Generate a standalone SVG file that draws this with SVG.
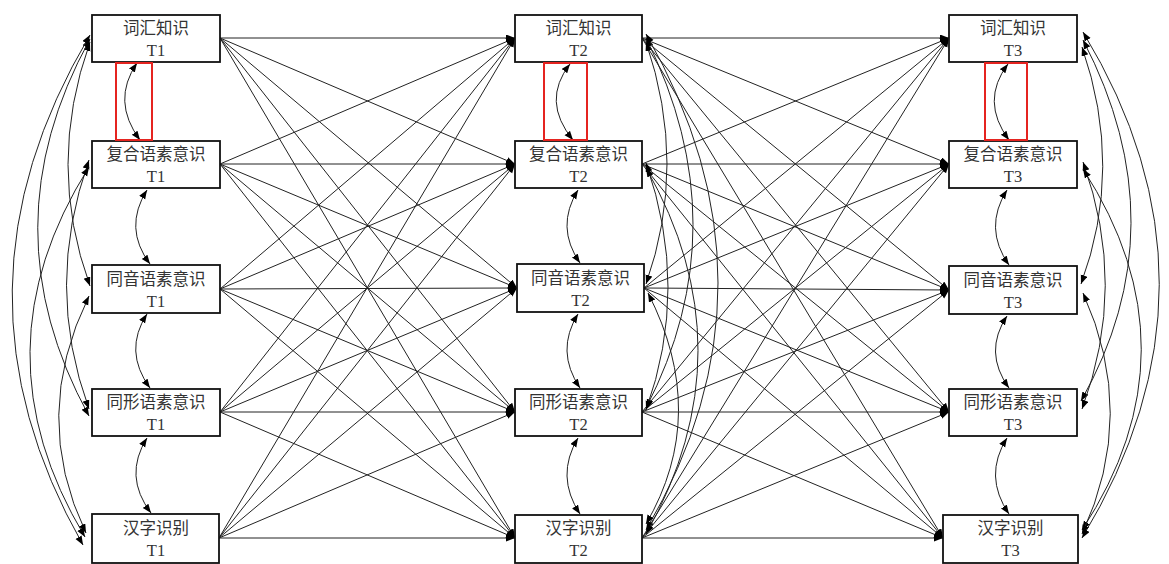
<svg xmlns="http://www.w3.org/2000/svg" width="1169" height="564" viewBox="0 0 1169 564">
<style>
.box{fill:#fff;stroke:#111;stroke-width:1.8}
.lbl{font-family:"Liberation Serif","Noto Sans CJK SC",serif;font-size:16.5px;fill:#333;text-anchor:middle}
.c{fill:none;stroke:#222;stroke-width:1}
.p{marker-end:url(#ah)}
.r{marker-start:url(#ah);marker-end:url(#ah)}
.red{fill:none;stroke:#e52420;stroke-width:2}
</style>
<defs>
<marker id="ah" markerUnits="userSpaceOnUse" markerWidth="10" markerHeight="8" refX="9" refY="3.5" orient="auto-start-reverse"><path d="M0,0 L9,3.5 L0,7 z" fill="#000"/></marker>
</defs>
<rect width="1169" height="564" fill="#fff"/>
<g id="connectors">
<path class="c p" d="M220,38 L515,38"/>
<path class="c p" d="M220,38 L515,164"/>
<path class="c p" d="M220,38 L517,288"/>
<path class="c p" d="M220,38 L515,412"/>
<path class="c p" d="M220,38 L515,538"/>
<path class="c p" d="M220,164 L515,38"/>
<path class="c p" d="M220,164 L515,164"/>
<path class="c p" d="M220,164 L517,288"/>
<path class="c p" d="M220,164 L515,412"/>
<path class="c p" d="M220,164 L515,538"/>
<path class="c p" d="M220,289 L515,38"/>
<path class="c p" d="M220,289 L515,164"/>
<path class="c p" d="M220,289 L517,288"/>
<path class="c p" d="M220,289 L515,412"/>
<path class="c p" d="M220,289 L515,538"/>
<path class="c p" d="M220,412 L515,38"/>
<path class="c p" d="M220,412 L515,164"/>
<path class="c p" d="M220,412 L517,288"/>
<path class="c p" d="M220,412 L515,412"/>
<path class="c p" d="M220,412 L515,538"/>
<path class="c p" d="M219,538 L515,38"/>
<path class="c p" d="M219,538 L515,164"/>
<path class="c p" d="M219,538 L517,288"/>
<path class="c p" d="M219,538 L515,412"/>
<path class="c p" d="M219,538 L515,538"/>
<path class="c p" d="M642,38 L949,38"/>
<path class="c p" d="M642,38 L949,164"/>
<path class="c p" d="M642,38 L949,290"/>
<path class="c p" d="M642,38 L949,412"/>
<path class="c p" d="M642,38 L943,538"/>
<path class="c p" d="M642,164 L949,38"/>
<path class="c p" d="M642,164 L949,164"/>
<path class="c p" d="M642,164 L949,290"/>
<path class="c p" d="M642,164 L949,412"/>
<path class="c p" d="M642,164 L943,538"/>
<path class="c p" d="M644,288 L949,38"/>
<path class="c p" d="M644,288 L949,164"/>
<path class="c p" d="M644,288 L949,290"/>
<path class="c p" d="M644,288 L949,412"/>
<path class="c p" d="M644,288 L943,538"/>
<path class="c p" d="M642,412 L949,38"/>
<path class="c p" d="M642,412 L949,164"/>
<path class="c p" d="M642,412 L949,290"/>
<path class="c p" d="M642,412 L949,412"/>
<path class="c p" d="M642,412 L943,538"/>
<path class="c p" d="M642,538 L949,38"/>
<path class="c p" d="M642,538 L949,164"/>
<path class="c p" d="M642,538 L949,290"/>
<path class="c p" d="M642,538 L949,412"/>
<path class="c p" d="M642,538 L943,538"/>
<path class="c r" d="M137,63 Q111,101 140,140"/>
<path class="c r" d="M147,190 Q123,228 150,264"/>
<path class="c r" d="M147,314 Q123,351 150,388"/>
<path class="c r" d="M147,438 Q123,476 151,513"/>
<path class="c r" d="M570,64 Q541,101 573,140"/>
<path class="c r" d="M578,190 Q555,227 580,263"/>
<path class="c r" d="M578,314 Q555,351 580,388"/>
<path class="c r" d="M578,438 Q555,476 580,514"/>
<path class="c r" d="M1008,64 Q980,101 1009,140"/>
<path class="c r" d="M1007,190 Q983,228 1009,265"/>
<path class="c r" d="M1007,316 Q983,352 1009,388"/>
<path class="c r" d="M1007,438 Q983,476 1009,514"/>
<path class="c r" d="M90,42 Q46,165 90,286"/>
<path class="c r" d="M90,39 Q-14,228 89,416"/>
<path class="c r" d="M90,35 Q-62,290 83,545"/>
<path class="c r" d="M89,160 Q44,286 89,409"/>
<path class="c r" d="M89,167 Q-27,351 85,537"/>
<path class="c r" d="M89,296 Q30,416 86,533"/>
<path class="c r" d="M646,42 Q688,165 646,284"/>
<path class="c r" d="M646,38 Q740,226 646,408"/>
<path class="c r" d="M646,34 Q790,284 646,530"/>
<path class="c r" d="M646,163 Q690,288 646,410"/>
<path class="c r" d="M646,168 Q750,350 646,534"/>
<path class="c r" d="M648,293 Q710,414 646,524"/>
<path class="c r" d="M1082,47 Q1124,168 1081,284"/>
<path class="c r" d="M1083,40 Q1180,226 1081,401"/>
<path class="c r" d="M1083,32 Q1236,284 1082,538"/>
<path class="c r" d="M1083,162 Q1128,286 1082,409"/>
<path class="c r" d="M1083,169 Q1200,350 1082,530"/>
<path class="c r" d="M1083,293 Q1138,414 1082,534"/>
</g>
<g id="vocab-t1"><rect class="box" x="92" y="15" width="128" height="47"/><text class="lbl" x="156" y="34">词汇知识</text><text class="lbl" x="156" y="56">T1</text></g>
<g id="compound-t1"><rect class="box" x="92" y="141" width="128" height="47"/><text class="lbl" x="156" y="160">复合语素意识</text><text class="lbl" x="156" y="182">T1</text></g>
<g id="homophone-t1"><rect class="box" x="92" y="265" width="128" height="48"/><text class="lbl" x="156" y="285">同音语素意识</text><text class="lbl" x="156" y="307">T1</text></g>
<g id="homograph-t1"><rect class="box" x="92" y="389" width="128" height="47"/><text class="lbl" x="156" y="408">同形语素意识</text><text class="lbl" x="156" y="430">T1</text></g>
<g id="character-t1"><rect class="box" x="92" y="514" width="127" height="49"/><text class="lbl" x="156" y="534">汉字识别</text><text class="lbl" x="156" y="556">T1</text></g>
<g id="vocab-t2"><rect class="box" x="515" y="15" width="127" height="47"/><text class="lbl" x="578.5" y="34">词汇知识</text><text class="lbl" x="578.5" y="56">T2</text></g>
<g id="compound-t2"><rect class="box" x="515" y="141" width="127" height="47"/><text class="lbl" x="578.5" y="160">复合语素意识</text><text class="lbl" x="578.5" y="182">T2</text></g>
<g id="homophone-t2"><rect class="box" x="517" y="264" width="127" height="48"/><text class="lbl" x="580.5" y="284">同音语素意识</text><text class="lbl" x="580.5" y="306">T2</text></g>
<g id="homograph-t2"><rect class="box" x="515" y="389" width="127" height="47"/><text class="lbl" x="578.5" y="408">同形语素意识</text><text class="lbl" x="578.5" y="430">T2</text></g>
<g id="character-t2"><rect class="box" x="515" y="515" width="127" height="48"/><text class="lbl" x="578.5" y="534">汉字识别</text><text class="lbl" x="578.5" y="556">T2</text></g>
<g id="vocab-t3"><rect class="box" x="949" y="15" width="128" height="47"/><text class="lbl" x="1013" y="34">词汇知识</text><text class="lbl" x="1013" y="56">T3</text></g>
<g id="compound-t3"><rect class="box" x="949" y="141" width="128" height="47"/><text class="lbl" x="1013" y="160">复合语素意识</text><text class="lbl" x="1013" y="182">T3</text></g>
<g id="homophone-t3"><rect class="box" x="949" y="266" width="128" height="48"/><text class="lbl" x="1013" y="286">同音语素意识</text><text class="lbl" x="1013" y="308">T3</text></g>
<g id="homograph-t3"><rect class="box" x="949" y="389" width="128" height="47"/><text class="lbl" x="1013" y="408">同形语素意识</text><text class="lbl" x="1013" y="430">T3</text></g>
<g id="character-t3"><rect class="box" x="943" y="515" width="135" height="48"/><text class="lbl" x="1010.5" y="534">汉字识别</text><text class="lbl" x="1010.5" y="556">T3</text></g>
<g id="annotations">
<rect class="red" x="116" y="63" width="36" height="77"/>
<rect class="red" x="544" y="63" width="43" height="77"/>
<rect class="red" x="985" y="63" width="42" height="77"/>
</g>
</svg>
